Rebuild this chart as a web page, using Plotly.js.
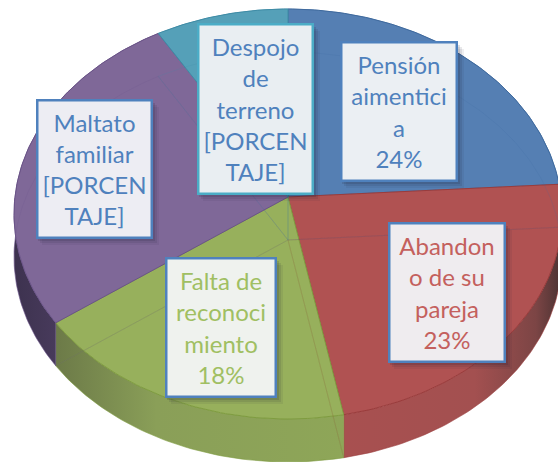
<!DOCTYPE html>
<html><head><meta charset="utf-8">
<script src="https://cdn.plot.ly/plotly-3.0.1.min.js"></script>
<style>html,body{margin:0;padding:0;background:#fff;overflow:hidden}#c{width:558px;height:462px}</style>
</head><body><div id="c"></div>
<script>
const categories = ["Pensión aimenticia","Abandono de su pareja","Falta de reconocimiento","Maltato familiar","Despojo de terreno"];
const values = [24,23,18,26.5,8.5];
const labelTexts = ["Pensión<br>aimentici<br>a<br>24%","Abandon<br>o de su<br>pareja<br>23%","Falta de<br>reconoci<br>miento<br>18%","Maltato<br>familiar<br>[PORCEN<br>TAJE]","Despojo<br>de<br>terreno<br>[PORCEN<br>TAJE]"];
const topColors = ["#557fb3","#b05252","#97b05c","#7f6898","#55a0b8"];
const edgeColors = ["#3f6a9e","#9a3c3c","#7f9c40","#6a5388","#3f8ca6"];
const labelColors = ["#4f81bd","#c4605d","#a0bf62","#4f81bd","#4f81bd"];
const labelFills = ["#ebeff3","#efecef","#eff2ee","#ededf3","#e9eef2"];
const borderColors = ["#4f81bd","#4f81bd","#4f81bd","#4f81bd","#4bacc6"];
const rimScales = [
  [[0,"#3f6a9e"],[1,"#3f6a9e"]],
  [[0,"#a85050"],[0.6,"#a35050"],[0.88,"#7c4545"],[1,"#4a3232"]],
  [[0,"#6c7a48"],[0.35,"#8a9f58"],[1,"#8ea658"]],
  [[0,"#3d324f"],[0.5,"#4f4064"],[1,"#6a5484"]],
  [[0,"#3f8ca6"],[1,"#3f8ca6"]]
];
// label boxes as [left, top, right, bottom] on the pixel-scaled axes
const boxes = [[341,42,457,181],[389,223,505,362],[166,258,276,397],[37,100,152,238],[198,24,313,194]];
const cx=288, cy=214, rx=274, ry=205, persp=0.083, depth=43;

function project(frac, dy){
  const t=2*Math.PI*frac, u=Math.sin(t), v=Math.cos(t), d=1+persp*v;
  return [cx+rx*u*Math.sqrt(1-persp*persp)/d, cy-ry*(v+persp)/d+dy];
}
function apex(dy){return [cx,cy-ry*persp+dy];}
function arc(a,b,dy){
  const pts=[], n=Math.max(8,Math.ceil((b-a)*360));
  for(let i=0;i<=n;i++) pts.push(project(a+(b-a)*i/n,dy));
  return pts;
}
const total=values.reduce((s,v)=>s+v,0);
let cum=0; const spans=values.map(v=>{const s=[cum/total,(cum+v)/total];cum+=v;return s;});
const poly=(pts,o)=>Object.assign({type:"scatter",mode:"lines",x:pts.map(p=>p[0]),y:pts.map(p=>p[1]),hoverinfo:"skip",showlegend:false},o);

const traces=[];
spans.forEach((s,i)=>{
  const top=arc(s[0],s[1],0), bot=arc(s[0],s[1],depth).reverse();
  traces.push(poly(top.concat(bot,[top[0]]),{fill:"toself",name:categories[i]+" side",line:{color:edgeColors[i],width:0.5},
    fillgradient:{type:"horizontal",colorscale:rimScales[i]}}));
});
spans.forEach((s,i)=>{
  const a=apex(0), pts=[a].concat(arc(s[0],s[1],0),[a]);
  traces.push(poly(pts,{fill:"toself",fillcolor:topColors[i],name:categories[i],line:{color:edgeColors[i],width:1}}));
});
spans.forEach((s,i)=>{
  const a=apex(depth), pts=[a].concat(arc(s[0],s[1],depth),[a]);
  traces.push(poly(pts,{name:categories[i]+" base",line:{color:edgeColors[i],width:1},opacity:0.18}));
});

const shapes=[];
boxes.forEach(b=>{
  [[7,0.07],[5,0.10],[3,0.14]].forEach(o=>{
    shapes.push({type:"rect",xref:"x",yref:"y",x0:b[0]+o[0]-2,y0:b[1]+o[0],x1:b[2]+o[0],y1:b[3]+o[0],
      fillcolor:"rgba(30,30,50,"+o[1]+")",line:{width:0},layer:"above"});
  });
});
const annotations=boxes.map((b,i)=>({
  xref:"x",yref:"y",x:(b[0]+b[2])/2,y:(b[1]+b[3])/2,xanchor:"center",yanchor:"middle",
  width:b[2]-b[0]-3,height:b[3]-b[1]-3,text:labelTexts[i],showarrow:false,align:"center",valign:"middle",
  font:{family:"Lato, sans-serif",size:24,color:labelColors[i]},
  bgcolor:labelFills[i],bordercolor:borderColors[i],borderwidth:2.5,borderpad:0
}));
Plotly.newPlot("c",traces,{
  width:558,height:462,margin:{l:0,r:0,t:0,b:0},paper_bgcolor:"#fff",plot_bgcolor:"#fff",showlegend:false,
  xaxis:{range:[0,558],visible:false,fixedrange:true},
  yaxis:{range:[462,0],visible:false,fixedrange:true},
  shapes:shapes,annotations:annotations
},{displayModeBar:false,staticPlot:true});
</script></body></html>
